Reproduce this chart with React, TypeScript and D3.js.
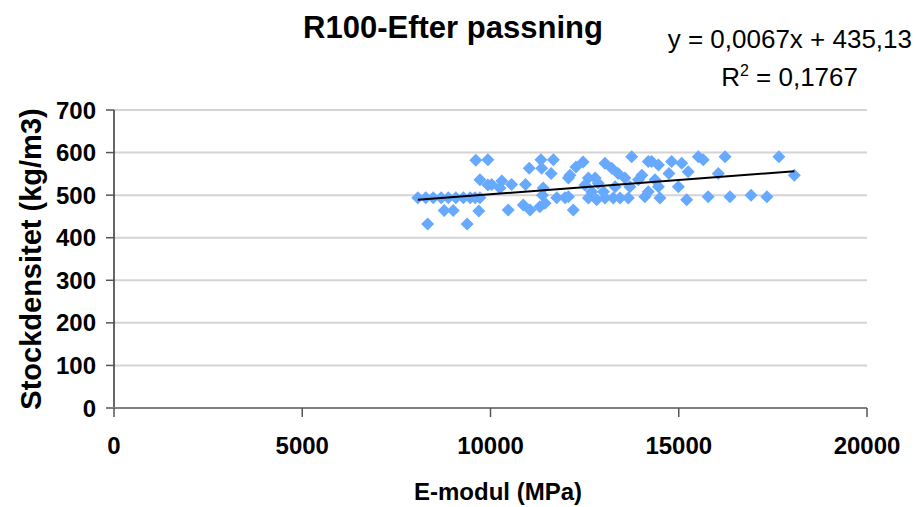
import React from "react";
import * as d3 from "d3";

// E-modul (MPa) and stockdensitet (kg/m3)
const eModul = [
  8070, 8280, 8480, 8690, 8880, 9080, 9280, 9460, 9590, 9720,
  8770, 9010, 9690, 8330, 9380, 9610, 9930, 9720, 9930,
  11340, 11670, 11360, 11030, 11610, 10030, 10300, 10250, 10560, 10930,
  11400, 12070, 11380, 11760, 11980, 10470, 10870, 11050, 11310, 11450,
  13750, 14190, 12460, 12270, 12110, 13040, 13220, 13390, 13570, 14020,
  13930, 12600, 12780, 12510, 12860, 13310, 13700, 12070, 12600, 12820,
  13040, 13260, 13440, 13660, 14100, 12690, 13000, 12200,
  14280, 14460, 14810, 15080, 15520, 15650, 16230, 14740, 15250, 16050,
  14370, 14460, 14990, 14500, 15210, 15780, 16360, 14190,
  17660, 18070, 16920, 17340,
];
const densitet = [
  494, 494, 494, 494, 494, 494, 494, 494, 494, 494,
  464, 464, 463, 432, 432, 582, 583, 536, 524,
  583, 583, 563, 563, 551, 525, 533, 517, 525, 525,
  517, 540, 500, 494, 494, 465, 477, 465, 473, 481,
  590, 579, 578, 566, 547, 575, 563, 551, 540, 547,
  536, 540, 540, 524, 528, 520, 520, 496, 493, 489,
  493, 493, 493, 493, 496, 508, 508, 465,
  579, 571, 579, 575, 590, 583, 590, 551, 555, 551,
  536, 520, 520, 493, 489, 496, 496, 508,
  590, 547, 500, 496,
];
const xTicks = [0, 5000, 10000, 15000, 20000];
const yTicks = [0, 100, 200, 300, 400, 500, 600, 700];
const slope = 0.0067;
const intercept = 435.13;

const points = eModul.map((x, i) => ({ x, y: densitet[i] }));

export default function App() {
  const width = 916;
  const height = 507;
  const left = 114;
  const right = 867;
  const top = 110;
  const bottom = 408;
  const font = "'Liberation Sans', Arial, sans-serif";

  const x = d3.scaleLinear().domain([0, 20000]).range([left, right]);
  const y = d3.scaleLinear().domain([0, 700]).range([bottom, top]);

  const [xMin, xMax] = d3.extent(eModul) as [number, number];
  const trend = d3.line<number>()
    .x(d => x(d))
    .y(d => y(slope * d + intercept));

  const r = 6.5;
  const diamond = `M0,${-r}L${r},0L0,${r}L${-r},0Z`;

  return (
    <svg width={width} height={height} style={{ position: "absolute", left: 0, top: 0 }}
      fontFamily={font}>
      <rect width={width} height={height} fill="#fff" />

      {/* gridlines */}
      {yTicks.filter(t => t > 0).map(t => (
        <line key={t} x1={left} x2={right} y1={y(t)} y2={y(t)} stroke="#d4d4d4" strokeWidth={2} />
      ))}

      {/* y axis */}
      <line x1={left} x2={left} y1={top} y2={bottom} stroke="#000" strokeWidth={1.2} />
      {yTicks.map(t => (
        <g key={t}>
          <line x1={left - 8} x2={left} y1={y(t)} y2={y(t)} stroke="#555" strokeWidth={1.5} />
          <text x={96} y={y(t)} dy="0.36em" textAnchor="end" fontSize={24} fontWeight="bold">{t}</text>
        </g>
      ))}

      {/* x axis */}
      <line x1={left - 8} x2={right} y1={bottom} y2={bottom} stroke="#808080" strokeWidth={2} />
      {xTicks.map(t => (
        <g key={t}>
          <line x1={x(t)} x2={x(t)} y1={bottom} y2={bottom + 9} stroke="#555" strokeWidth={1.5} />
          <text x={x(t)} y={454} textAnchor="middle" fontSize={24} fontWeight="bold">{t}</text>
        </g>
      ))}

      {/* points */}
      {points.map((p, i) => (
        <path key={i} d={diamond} transform={`translate(${x(p.x)},${y(p.y)})`} fill="#66a9ff" />
      ))}

      {/* trendline */}
      <path d={trend([xMin, xMax]) ?? ""} fill="none" stroke="#000" strokeWidth={2} />

      {/* titles */}
      <text x={453} y={38} textAnchor="middle" fontSize={31} fontWeight="bold">R100-Efter passning</text>
      <text x={912} y={48} textAnchor="end" fontSize={26}>y = 0,0067x + 435,13</text>
      <text x={858} y={86} textAnchor="end" fontSize={26}>
        R<tspan dy={-10} fontSize={16}>2</tspan><tspan dy={10}> = 0,1767</tspan>
      </text>
      <text x={498} y={500} textAnchor="middle" fontSize={24} fontWeight="bold">E-modul (MPa)</text>
      <text transform="translate(41,259) rotate(-90)" textAnchor="middle" fontSize={29} fontWeight="bold">
        Stockdensitet (kg/m3)
      </text>
    </svg>
  );
}
